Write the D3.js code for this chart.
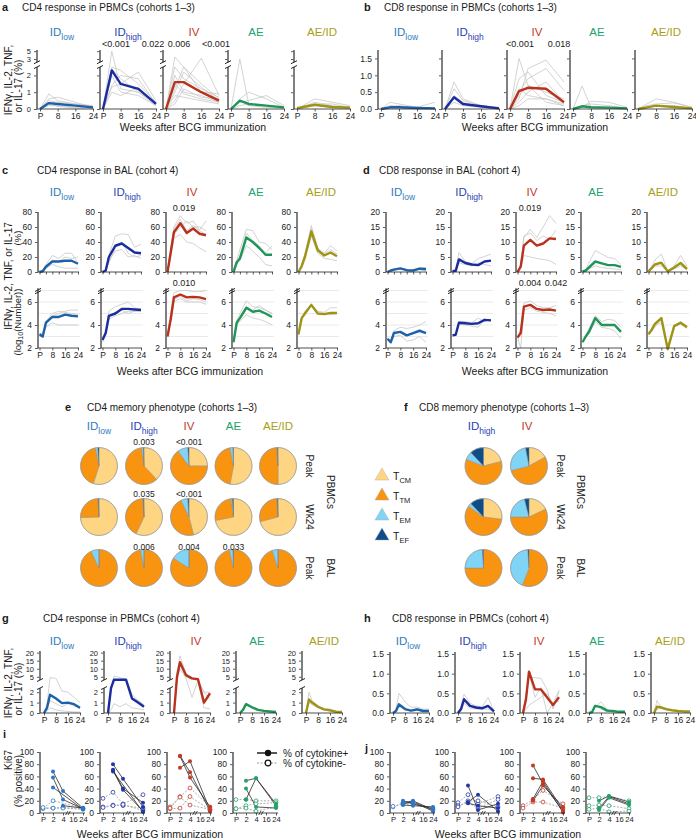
<!DOCTYPE html>
<html>
<head>
<meta charset="utf-8">
<script src="https://cdn.jsdelivr.net/npm/d3@7"></script>
<style>
  body { margin: 0; background: #fff; }
</style>
</head>
<body>
<script>
// ---- groups ----
const groupNames = ["ID", "ID", "IV", "AE", "AE/ID"];
const groupSubs = ["low", "high", "", "", ""];
const groupText = ["#2f7cc0", "#2b3fb3", "#c2392a", "#22a36b", "#a99e1a"];
const groupLine = ["#1d61a8", "#1b2d9e", "#b9321c", "#1f9658", "#9e9515"];

const weeksPbmc = [0, 4, 8, 16, 24];
const weeksFine = [0, 2, 4, 8, 12, 16, 20, 24];

// ---- a: CD4 PBMC cohorts 1-3 (%) ----
const aMean = [
  [0, 0.35, 0.3, 0.2, 0.1],
  [0, 2.3, 1.5, 1.2, 0.3],
  [0, 1.6, 1.6, 1.0, 0.5],
  [0, 0.5, 0.3, 0.2, 0.1],
  [0.05, 0.15, 0.25, 0.12, 0.08]
];
const aAnimals = [
  [[0,0.9,0.5,0.3,0.15],[0,0.6,0.7,0.4,0.1],[0,0.4,0.3,0.2,0.05],[0,0.2,0.2,0.1,0.1],[0,0.5,0.4,0.3,0.2],[0,0.3,0.15,0.05,0.05]],
  [[0,5,1.2,1.0,0.2],[0,2.5,2.3,1.5,0.4],[0,1.4,2.0,1.8,0.3],[0,1.3,1.5,2.2,0.5],[0,2.0,1.0,0.8,0.2],[0,1.0,0.8,1.3,0.3],[0,2.4,1.8,1.0,0.3]],
  [[0,3.5,2.5,1.5,0.6],[0,1.2,2.5,1.0,0.9],[0,0.5,1.5,3.2,0.8],[0,2.0,1.0,0.8,0.4],[0,1.0,2.2,1.3,0.5],[0,0.8,0.7,0.5,0.3],[0,2.5,1.8,1.2,0.7],[0,1.5,0.9,0.6,0.4],[0,0.3,1.2,0.7,0.6]],
  [[0,3.0,0.3,0.2,0.1],[0,0.6,1.0,0.6,0.1],[0,0.4,0.5,0.8,0.2],[0,0.2,0.3,0.2,0.1],[0,0.5,0.2,0.1,0.05]],
  [[0,0.3,0.6,0.4,0.2],[0,0.2,0.3,0.3,0.1],[0,0.1,0.2,0.1,0.05],[0,0.2,0.4,0.2,0.1]]
];
const aPvals = [null, ["<0.001", "0.022"], ["0.006", "<0.001"], null, null];

// ---- b: CD8 PBMC cohorts 1-3 (%) ----
const bMean = [
  [0, 0.05, 0.05, 0.03, 0.02],
  [0, 0.35, 0.15, 0.08, 0.02],
  [0, 0.53, 0.63, 0.6, 0.2],
  [0, 0.08, 0.05, 0.04, 0.02],
  [0, 0.05, 0.1, 0.06, 0.02]
];
const bAnimals = [
  [[0,0.2,0.15,0.05,0.2],[0,0.1,0.08,0.05,0.03],[0,0.05,0.1,0.02,0.02]],
  [[0,0.8,0.3,0.1,0.05],[0,0.6,0.25,0.1,0.02],[0,0.4,0.2,0.05,0.02],[0,0.2,0.1,0.05,0.01]],
  [[0,1.5,0.7,0.5,0.3],[0,0.3,1.2,1.45,0.8],[0,0.9,1.1,0.4,0.2],[0,0.5,0.9,1.2,0.55],[0,0.2,0.5,0.8,0.2],[0,0.6,0.4,0.3,0.1],[0,0.4,0.7,0.2,0.1],[0,0.1,0.3,0.3,0.15]],
  [[0,0.68,0.05,0.05,0.02],[0,0.05,0.23,0.2,0.05],[0,0.1,0.15,0.1,0.03]],
  [[0,0.15,0.3,0.2,0.05],[0,0.1,0.15,0.18,0.05],[0,0.05,0.08,0.1,0.02]]
];
const bPvals = [null, null, ["<0.001", "0.018"], null, null];

// ---- c: CD4 BAL cohort 4 ----
const cPctMean = [
  [0,1,7,14,14,15,15,11],
  [0,2,20,35,38,32,26,25],
  [0,26,53,65,52,58,51,49],
  [0,13,18,46,40,32,23,23],
  [0,8,20,54,29,22,26,21]
];
const cPctAnimals = [
  [[0,2,10,22,18,25,25,12],[0,1,5,10,7,5,5,5],[0,0,8,16,14,20,18,20]],
  [[0,2,22,48,51,50,33,37],[0,1,15,28,30,20,22,18],[0,3,12,32,40,25,20,22]],
  [[0,30,60,75,65,68,56,68],[0,25,50,60,68,60,60,55],[0,20,45,50,40,38,32,27],[0,28,58,70,55,62,55,50]],
  [[0,15,30,57,55,40,38,30],[0,10,15,35,28,20,10,8],[0,12,22,52,42,35,25,35]],
  [[0,10,25,62,32,25,35,28],[0,5,18,48,25,18,17,15],[0,7,22,58,30,24,30,24]]
];
const cLogMean = [
  [3.2,3.0,4.2,4.7,4.7,4.9,4.8,4.75],
  [2.7,3.3,4.8,5.0,5.4,5.4,5.35,5.3],
  [3.0,4.5,6.4,6.65,6.4,6.45,6.4,6.25],
  [2.5,4.2,4.6,5.5,5.15,5.25,5.0,4.7],
  [3.2,4.6,5.0,5.75,5.0,4.95,5.05,5.05]
];
const cLogAnimals = [
  [[3.2,3.1,4.0,4.8,5.0,5.2,5.3,5.3],[3.0,3.0,3.8,4.2,4.0,4.0,4.0,4.0],[3.3,3.2,4.3,5.0,5.2,5.1,5.0,4.9]],
  [[2.5,3.5,5.2,5.6,5.8,6.0,5.5,5.4],[2.8,3.2,4.5,4.8,5.0,5.2,5.2,5.3],[2.9,3.4,4.7,5.1,5.3,5.0,5.2,5.2]],
  [[3.0,5.0,6.8,7.0,7.0,6.9,6.9,7.0],[3.0,4.4,6.2,6.5,6.1,6.3,6.2,6.0],[3.0,4.3,6.0,6.3,6.0,6.0,6.0,5.8]],
  [[2.5,4.4,5.0,6.1,5.6,5.5,5.3,5.0],[2.6,4.0,4.3,4.9,4.6,4.5,4.3,4.0],[2.5,4.3,4.7,5.6,5.3,5.7,5.3,5.0]],
  [[3.1,4.5,5.2,5.8,5.2,5.1,5.5,5.5],[3.2,4.7,4.9,5.7,5.0,4.9,4.9,5.0]]
];
const cPctPvals = [null, null, ["0.019"], null, null];
const cLogPvals = [null, null, ["0.010"], null, null];
const cLogXLabels = [["P","8","16","24"],["P","8","16","24"],["P","8","16","24"],["P","8","16","24"],["0","8","16","24"]];

// ---- d: CD8 BAL cohort 4 ----
const dPctMean = [
  [0,0.5,0.8,1.2,0.6,0.5,1.1,0.9],
  [0.3,0.4,4.2,3.0,2.5,2.3,3.5,3.8],
  [0,1.8,8.8,10.7,8.8,9.5,11.2,11.0],
  [0.2,0.5,1.5,3.5,2.9,2.3,2.3,1.7],
  [0.2,1.3,2.5,3.1,0.2,1.5,3.0,1.0]
];
const dPctAnimals = [
  [[0,0.3,0.6,1.0,0.5,0.4,1.5,1.5],[0,0.6,1.0,1.3,0.7,0.6,0.8,0.7]],
  [[0.2,0.5,6.5,3.5,2.8,4.5,5.2,6.0],[0.3,0.3,3.0,2.5,2.0,3.0,2.5,2.0]],
  [[0,2,11.5,14.2,11.5,15,18.8,16.2],[0,2.5,12,13,10.5,12,11,14],[0,1.5,5.5,5,4.5,4.2,3.8,2.5]],
  [[0.2,0.7,3,7.2,6,4.8,4.5,2.5],[0.1,0.3,1,2,1.5,1.2,1.0,0.8]],
  [[0.2,2,4,6,0.3,2,5.5,2],[0.2,1,2,2,0.2,1,2,0.8]]
];
const dLogMean = [
  [2.8,2.5,3.3,3.4,3.1,3.3,3.5,3.3],
  [3.1,3.15,4.2,4.15,4.1,4.15,4.45,4.4],
  [2.9,3.3,5.6,5.75,5.4,5.3,5.35,5.25],
  [2.5,3.0,3.4,4.6,4.0,4.0,4.0,3.4],
  [3.2,3.6,4.1,4.6,1.9,3.9,4.2,3.8]
];
const dLogAnimals = [
  [[2.8,2.6,3.5,3.8,3.7,3.8,4.0,4.3],[2.9,2.5,3.0,3.1,2.6,2.7,3.0,2.5]],
  [[3.0,3.2,4.3,4.3,4.2,4.6,4.3,4.5],[3.2,3.1,4.1,4.0,3.9,3.8,4.5,4.4]],
  [[2.9,3.6,5.9,6.1,5.7,5.5,5.5,5.7],[2.9,2.0,5.3,5.5,5.2,5.1,5.0,4.8]],
  [[2.6,3.1,3.7,4.8,4.3,4.5,4.4,3.8],[2.5,2.9,3.2,4.3,3.8,3.7,3.5,2.8]],
  [[3.1,3.5,3.8,4.5,2.0,4.0,4.3,3.9],[3.3,3.4,4.0,4.2,2.0,3.8,4.1,3.7]]
];
const dPctPvals = [null, null, ["0.019"], null, null];
const dLogPvals = [null, null, ["0.004", "0.042"], null, null];
const dLogXLabels = [["P","8","16","24"],["P","8","16","24"],["P","8","16","24"],["P","8","16","24"],["P","8","16","24"]];

// ---- e / f: memory phenotype pies (% TCM, TTM, TEM, TEF) ----
const subsetNames = ["CM", "TM", "EM", "EF"];
const subsetColors = ["#fed583", "#f8940f", "#80d4f6", "#0e4d87"];
const ePeak = [[55,42,2,1],[38,60,1.5,0.5],[25,65,9,1],[53,44,2.5,0.5],[50,49,0.5,0.5]];
const eWk24 = [[74.5,24.5,0.5,0.5],[57,42,0.5,0.5],[46,47,6,1],[72,26,1,1],[71,28,0.5,0.5]];
const eBal = [[0,93,7,0],[0,97,3,0],[0,84,16,0],[0,96.5,3,0.5],[0,95,5,0]];
const ePvals = [["","0.003","<0.001","",""],["","0.035","<0.001","",""],["","0.006","0.004","0.033",""]];
const fGroups = [1, 2];
const fPeak = [[21,60,7,12],[17,54,26,3]];
const fWk24 = [[27,58,3,12],[18,57,21,4]];
const fBal = [[0,75,24,1],[0,56,43,1]];
const rowLabels = ["Peak", "Wk24", "Peak"];

// ---- g: CD4 PBMC cohort 4 (%) ----
const gMean = [
  [0,0.5,1.75,1.4,0.95,1.0,0.85,0.5],
  [0,2.4,3.2,3.2,3.2,1.4,1.0,0.6],
  [0,5,14,6,4,3.5,1.0,1.9],
  [0,0.3,0.85,0.55,0.3,0.2,0.15,0.1],
  [0,1.3,1.0,0.6,0.35,0.25,0.12,0.1]
];
const gAnimals = [
  [[0,0.8,4.5,4,2.1,2.0,1.5,1.0],[0,0.3,1.2,0.9,0.6,0.9,0.7,0.4],[0,0.2,0.5,0.3,0.2,0.15,0.1,0.1]],
  [[0,2.0,5.5,4.5,3.5,1.5,1.2,0.7],[0,0.3,0.9,0.6,0.9,0.5,0.4,0.3],[0,2.4,3.0,3.0,3.2,1.8,1.2,0.8]],
  [[0,8,18,7,4,3,0.5,0.4],[0,4,12,5,3.5,3.0,2.0,1.3],[0,3,10,4,1.5,3,2,2]],
  [[0,0.35,0.9,0.6,0.35,0.2,0.15,0.1],[0,0.25,0.8,0.5,0.3,0.2,0.1,0.1]],
  [[0,2.0,1.2,0.7,0.4,0.4,0.15,0.1],[0,1.0,0.8,0.5,0.3,0.2,0.1,0.1]]
];

// ---- h: CD8 PBMC cohort 4 (%) ----
const hMean = [
  [0,0.05,0.22,0.1,0.06,0.09,0.05,0.05],
  [0,0.1,0.35,0.18,0.14,0.12,0.18,0.04],
  [0,0.35,1.05,0.6,0.6,0.4,0.2,0.4],
  [0,0.02,0.18,0.15,0.06,0.05,0.03,0.03],
  [0,0.16,0.15,0.1,0.07,0.05,0.04,0.04]
];
const hAnimals = [
  [[0,0.1,0.5,0.28,0.15,0.15,0.1,0.1],[0,0.05,0.15,0.1,0.05,0.12,0.08,0.05]],
  [[0,0.15,0.48,0.25,0.18,0.15,0.4,0.05],[0,0.05,0.25,0.12,0.1,0.1,0.1,0.03]],
  [[0,0.1,0.2,0.3,0.4,0.5,0.25,0.58],[0,0.5,0.9,0.9,0.88,0.6,0.1,0.55],[0,0.4,1.0,0.4,0.65,0.0,0.25,0.3]],
  [[0,0.05,0.15,0.28,0.1,0.05,0.03,0.02],[0,0.02,0.2,0.1,0.05,0.05,0.03,0.03]],
  [[0,0.32,0.18,0.12,0.07,0.05,0.04,0.04],[0,0.1,0.12,0.08,0.06,0.05,0.04,0.04]]
];

// ---- i / j: Ki67 (% positive) at P, wk2, wk4, wk24 ----
const kiKeys = ["P", "2", "4", "24"];
const kiTicks = ["P", "2", "4", "16", "24"];
const kiColors = ["#2f77c4", "#2437a8", "#c23a24", "#21a36a"];
const iPos = [
  [[null,68,36,8],[null,58,22,7],[null,42,null,6],[null,null,12,8]],
  [[null,80,56,10],[null,71,40,17],[null,70,38,3],[null,68,null,2]],
  [[null,94,67,3],[null,74,85,5],[null,93,58,10]],
  [[null,53,57,15],[null,40,10,8],[null,22,57,12]]
];
const iNeg = [
  [[8,20,null,8],[7,8,9,7],[9,8,8,6]],
  [[24,34,15,30],[10,13,12,8],[9,12,14,4]],
  [[10,27,41,10],[7,8,27,5],[8,26,13,6]],
  [[22,22,20,20],[7,12,15,17],[7,8,3,10]]
];
const jPos = [
  [[null,17,20,5],[null,15,18,3],[null,20,15,7],[null,13,12,10]],
  [[null,45,5,15],[null,18,30,3],[null,16,12,8]],
  [[null,78,48,3],[null,57,55,5],[null,23,52,1],[null,20,45,10]],
  [[null,20,28,18],[null,8,27,15],[null,5,25,13]]
];
const jNeg = [
  [[10,17,18,8],[11,14,15,5]],
  [[17,30,15,27],[12,17,8,22],[10,20,20,10]],
  [[12,22,37,15],[8,18,18,8]],
  [[25,25,27,20],[12,13,12,7],[6,8,2,3]]
];

// ================= drawing =================
const FONT = '"Liberation Sans", Arial, Helvetica, sans-serif';
const svg = d3.select("body").append("svg")
  .attr("width", 696).attr("height", 840)
  .attr("font-family", FONT);
svg.append("rect").attr("width", 696).attr("height", 840).attr("fill", "#fff");

function label(x, y, s, size, o = {}) {
  const t = svg.append("text").attr("x", x).attr("y", y)
    .attr("font-size", size).attr("fill", o.fill || "#1a1a1a")
    .attr("text-anchor", o.anchor || "start")
    .attr("font-weight", o.bold ? "bold" : null)
    .text(s);
  if (o.rotate) t.attr("transform", `rotate(${o.rotate},${x},${y})`);
  return t;
}

function groupTitle(x, y, i) {
  const t = label(x, y, groupNames[i], 11.5, {anchor: "middle", fill: groupText[i]});
  if (groupSubs[i]) t.append("tspan").attr("dy", 3.5).attr("font-size", 8.5).text(groupSubs[i]);
}

function styleAxis(a, fs) {
  a.attr("font-family", FONT);
  a.selectAll("line").attr("stroke", "#333").attr("stroke-width", 0.8);
  a.selectAll("text").attr("font-size", fs || 8.5).attr("fill", "#222");
}

// one small-multiple line panel
function linePanel(o) {
  const g = svg.append("g");
  const x = d3.scaleLinear().domain([0, 24]).range([o.x0 + o.dx, o.x0 + o.dx + o.w]);
  const y = o.y;
  if (o.grid) {
    g.selectAll(null).data(o.grid).join("line")
      .attr("x1", o.x0).attr("x2", o.x0 + o.dx + o.w + 2)
      .attr("y1", d => y(d)).attr("y2", d => y(d))
      .attr("stroke", "#e4e4e4").attr("stroke-width", 0.8);
  }
  const line = d3.line().x((d, i) => x(o.weeks[i])).y(d => y(d));
  g.selectAll(null).data(o.animals).join("path")
    .attr("d", line).attr("fill", "none")
    .attr("stroke", "#c4c4c4").attr("stroke-width", 0.75);
  g.append("path").datum(o.mean).attr("d", line).attr("fill", "none")
    .attr("stroke", o.color).attr("stroke-width", 2.4)
    .attr("stroke-linejoin", "round");

  const ya = g.append("g").attr("transform", `translate(${o.x0},0)`)
    .call(d3.axisLeft(y).tickValues(o.yTicks).tickSize(3)
      .tickFormat(o.yLabels ? (o.yFmt || d3.format("d")) : ""));
  ya.select(".domain").remove();
  styleAxis(ya, o.yFont);
  o.segments.forEach(s => {
    g.append("line").attr("x1", o.x0).attr("x2", o.x0)
      .attr("y1", y(s[0])).attr("y2", y(s[1]))
      .attr("stroke", "#6a6a6a").attr("stroke-width", 1.7);
  });
  (o.breaks || []).forEach(b => {
    g.append("path").attr("d", `M${o.x0 - 3},${y(b) + 1.5}L${o.x0 + 3},${y(b) - 1.5}`)
      .attr("stroke", "#222").attr("stroke-width", 1);
  });

  const yb = y(o.yBase);
  const xa = g.append("g").attr("transform", `translate(0,${yb})`)
    .call(d3.axisBottom(x).tickValues(o.xTicks).tickSize(2.5).tickSizeOuter(0)
      .tickFormat((d, i) => o.xLabels ? o.xLabels[i] : ""));
  xa.select(".domain").remove();
  styleAxis(xa);
  xa.selectAll("text").attr("y", 3.5);
  g.append("line").attr("x1", o.x0).attr("x2", o.x0 + o.dx + o.w + 1)
    .attr("y1", yb).attr("y2", yb).attr("stroke", "#222").attr("stroke-width", 0.8);

  if (o.pvals) {
    o.pvals.forEach((p, k) => {
      label(o.x0 + o.pvalX[k], o.pvalY, p, 9, {anchor: "middle"});
    });
  }
}

// ---------- panel a ----------
label(2, 11, "a", 11, {bold: true});
label(22, 11, "CD4 response in PBMCs (cohorts 1–3)", 10);
const yA = d3.scaleLinear().domain([0, 2.5, 3, 5.3]).range([109, 67, 59, 50]);
const axesA = [37, 100, 163, 228, 294];
const titleA = [62, 128, 194, 256, 322];
axesA.forEach((x0, i) => {
  groupTitle(titleA[i], 36, i);
  linePanel({
    x0, dx: 3, w: 53, y: yA, weeks: weeksPbmc, animals: aAnimals[i], mean: aMean[i],
    color: groupLine[i], yTicks: [0, 1, 2, 3, 5], yLabels: i === 0, yFont: 7.5,
    segments: [[0, 2.5], [2.8, 5.3]], breaks: [2.5, 2.8], yBase: 0,
    xTicks: [0, 8, 16, 24], xLabels: ["P", "8", "16", "24"],
    pvals: aPvals[i], pvalX: [16, 53], pvalY: 47
  });
});
label(12, 80, "IFNγ, IL-2, TNF,", 10, {anchor: "middle", rotate: -90});
label(21.5, 86, "or IL-17 (%)", 10, {anchor: "middle", rotate: -90});
label(193, 131, "Weeks after BCG immunization", 10.5, {anchor: "middle"});

// ---------- panel b ----------
label(364, 11, "b", 11, {bold: true});
label(384, 11, "CD8 response in PBMCs (cohorts 1–3)", 10);
const yB = d3.scaleLinear().domain([0, 1.75]).range([109, 50]);
const axesB = [378, 442, 507, 570, 635];
const titleB = [406, 470, 537, 597, 666];
axesB.forEach((x0, i) => {
  groupTitle(titleB[i], 36, i);
  linePanel({
    x0, dx: 3, w: 54, y: yB, weeks: weeksPbmc, animals: bAnimals[i], mean: bMean[i],
    color: groupLine[i], yTicks: [0, 0.5, 1, 1.5], yLabels: i === 0, yFmt: d3.format(".1f"),
    segments: [[0, 1.75]], yBase: 0,
    xTicks: [0, 8, 16, 24], xLabels: ["P", "8", "16", "24"],
    pvals: bPvals[i], pvalX: [13, 52], pvalY: 47
  });
});
label(535, 131, "Weeks after BCG immunization", 10.5, {anchor: "middle"});

// ---------- panels c / d ----------
const yPctC = d3.scaleLinear().domain([0, 80]).range([272, 212]);
const yPctD = d3.scaleLinear().domain([0, 20]).range([272, 212]);
const yLog = d3.scaleLinear().domain([2, 7.2]).range([348, 288.2]);
function balPanels(axes, titles, yPct, pctTicks, pctMean, pctAnimals, logMean, logAnimals, pctP, logP, pX, logX, xLabelSets) {
  axes.forEach((x0, i) => {
    groupTitle(titles[i], 196, i);
    linePanel({
      x0, dx: 1.5, w: 38.5, y: yPct, weeks: weeksFine, animals: pctAnimals[i], mean: pctMean[i],
      color: groupLine[i], yTicks: pctTicks, yLabels: true,
      segments: [[0, pctTicks[pctTicks.length - 1]]], yBase: 0,
      xTicks: [0, 4, 8, 12, 16, 20, 24], xLabels: null,
      pvals: pctP[i], pvalX: pX, pvalY: 211
    });
    linePanel({
      x0, dx: 1.5, w: 38.5, y: yLog, weeks: weeksFine, animals: logAnimals[i], mean: logMean[i],
      color: groupLine[i], yTicks: [2, 4, 6], yLabels: true, grid: [3, 4, 5, 6, 7],
      segments: [[2, 7.2]], breaks: [6.85, 7.05], yBase: 2,
      xTicks: [0, 8, 16, 24], xLabels: xLabelSets[i],
      pvals: logP[i], pvalX: logX, pvalY: 286
    });
  });
}
label(2, 174, "c", 11, {bold: true});
label(37, 174, "CD4 response in BAL (cohort 4)", 10);
balPanels([38, 101, 166, 232, 297], [62, 127, 192, 256, 321], yPctC, [0, 20, 40, 60, 80],
  cPctMean, cPctAnimals, cLogMean, cLogAnimals, cPctPvals, cLogPvals, [18], [18], cLogXLabels);
label(12, 276, "IFNγ, IL-2, TNF, or IL-17", 10, {anchor: "middle", rotate: -90});
label(20.5, 238, "(%)", 9.5, {anchor: "middle", rotate: -90});
const logLab = label(20.5, 322, "(log", 9.5, {anchor: "middle", rotate: -90});
logLab.append("tspan").attr("dy", 2.5).attr("font-size", 7).text("10");
logLab.append("tspan").attr("dy", -2.5).text("(Number))");
label(190, 375, "Weeks after BCG immunization", 10.5, {anchor: "middle"});

label(363, 174, "d", 11, {bold: true});
label(379, 174, "CD8 response in BAL (cohort 4)", 10);
balPanels([386, 451, 516, 581, 647], [403, 469, 532, 596, 663], yPctD, [0, 5, 10, 15, 20],
  dPctMean, dPctAnimals, dLogMean, dLogAnimals, dPctPvals, dLogPvals, [14], [14, 40], dLogXLabels);
label(535, 375, "Weeks after BCG immunization", 10.5, {anchor: "middle"});

// ---------- panels e / f : pies ----------
const pie = d3.pie().sort(null).value(d => d);
const arc = d3.arc().innerRadius(0).outerRadius(18.5);
const pieRowsY = [466, 517, 568];
const pvalRowsY = [445, 497, 550];
function drawPie(cx, cy, vals) {
  const g = svg.append("g").attr("transform", `translate(${cx},${cy})`);
  g.selectAll("path").data(pie(vals)).join("path")
    .attr("d", arc)
    .attr("fill", (d, i) => subsetColors[i])
    .attr("stroke", "#8a8a8a").attr("stroke-width", 0.4);
  g.append("circle").attr("r", 18.5).attr("fill", "none")
    .attr("stroke", "#9a9a9a").attr("stroke-width", 0.6);
}

label(65, 411, "e", 11, {bold: true});
label(87, 411, "CD4 memory phenotype (cohorts 1–3)", 10);
const ePieX = [99, 144, 189, 233.5, 278];
[ePeak, eWk24, eBal].forEach((rows, r) => {
  rows.forEach((vals, i) => {
    drawPie(ePieX[i], pieRowsY[r], vals);
    if (ePvals[r][i]) label(ePieX[i], pvalRowsY[r], ePvals[r][i], 8.5, {anchor: "middle"});
  });
  label(306, pieRowsY[r], rowLabels[r], 10, {anchor: "middle", rotate: 90});
});
ePieX.forEach((x, i) => groupTitle(x, 430, i));
label(327, 492, "PBMCs", 10, {anchor: "middle", rotate: 90});
label(327, 568, "BAL", 10, {anchor: "middle", rotate: 90});

label(404, 411, "f", 11, {bold: true});
label(419, 411, "CD8 memory phenotype (cohorts 1–3)", 10);
const fPieX = [483.5, 529];
[fPeak, fWk24, fBal].forEach((rows, r) => {
  rows.forEach((vals, i) => drawPie(fPieX[i], pieRowsY[r], vals));
  label(557, pieRowsY[r], rowLabels[r], 10, {anchor: "middle", rotate: 90});
});
fGroups.forEach((gi, k) => groupTitle(fPieX[k] - 2, 430, gi));
label(577, 492, "PBMCs", 10, {anchor: "middle", rotate: 90});
label(577, 568, "BAL", 10, {anchor: "middle", rotate: 90});

// legend for memory subsets
const tri = d3.symbol().type(d3.symbolTriangle).size(85);
subsetNames.forEach((s, k) => {
  const ly = 476 + k * 20;
  svg.append("path").attr("d", tri).attr("transform", `translate(382,${ly})`)
    .attr("fill", subsetColors[k]).attr("stroke", "#aaa").attr("stroke-width", 0.4);
  const t = label(393, ly + 4, "T", 10.5);
  t.append("tspan").attr("dy", 3).attr("font-size", 7.5).text(s);
});

// ---------- panel g ----------
label(2, 622, "g", 11, {bold: true});
label(43, 622, "CD4 response in PBMCs (cohort 4)", 10);
const yG = d3.scaleLinear().domain([0, 2.5, 3, 21]).range([713, 687, 680, 651]);
const axesG = [40, 104, 170, 236, 302];
const titleG = [62, 128, 196, 257, 324];
axesG.forEach((x0, i) => {
  groupTitle(titleG[i], 645, i);
  linePanel({
    x0, dx: 4, w: 36, y: yG, weeks: weeksFine, animals: gAnimals[i], mean: gMean[i],
    color: groupLine[i], yTicks: [0, 1, 2, 5, 10, 15, 20], yLabels: true, yFont: 7.5,
    segments: [[0, 2.4], [3, 21]], breaks: [2.4, 3], yBase: 0,
    xTicks: [0, 8, 16, 24], xLabels: ["P", "8", "16", "24"]
  });
});
label(12, 683, "IFNγ, IL-2, TNF,", 10, {anchor: "middle", rotate: -90});
label(21.5, 689, "or IL-17 (%)", 10, {anchor: "middle", rotate: -90});

// ---------- panel h ----------
label(364, 622, "h", 11, {bold: true});
label(392, 622, "CD8 response in PBMCs (cohort 4)", 10);
const yH = d3.scaleLinear().domain([0, 1.5]).range([713, 654]);
const axesH = [390, 455, 520, 586, 651];
const titleH = [408, 473, 539, 597, 670];
axesH.forEach((x0, i) => {
  groupTitle(titleH[i], 645, i);
  linePanel({
    x0, dx: 3, w: 36, y: yH, weeks: weeksFine, animals: hAnimals[i], mean: hMean[i],
    color: groupLine[i], yTicks: [0, 0.5, 1, 1.5], yLabels: true, yFmt: d3.format(".1f"),
    segments: [[0, 1.55]], yBase: 0,
    xTicks: [0, 8, 16, 24], xLabels: ["P", "8", "16", "24"]
  });
});

// ---------- panels i / j : Ki67 ----------
const yKi = d3.scaleLinear().domain([0, 100]).range([813, 752]);
function kiPanel(x0, pos, neg, ci) {
  const g = svg.append("g");
  const x = d3.scalePoint().domain(kiTicks).range([x0 + 3, x0 + 43]);
  const pts = s => s.map((v, k) => [kiKeys[k], v]).filter(d => d[1] != null);
  const line = d3.line().x(d => x(d[0])).y(d => yKi(d[1]));
  g.selectAll(null).data(neg).join("path")
    .attr("d", s => line(pts(s))).attr("fill", "none")
    .attr("stroke", "#9a9a9a").attr("stroke-width", 0.8).attr("stroke-dasharray", "2,1.5");
  g.selectAll(null).data(pos).join("path")
    .attr("d", s => line(pts(s))).attr("fill", "none")
    .attr("stroke", "#2a2a2a").attr("stroke-width", 0.8);
  neg.forEach(s => g.selectAll(null).data(pts(s)).join("circle")
    .attr("cx", d => x(d[0])).attr("cy", d => yKi(d[1])).attr("r", 1.9)
    .attr("fill", "#fff").attr("stroke", kiColors[ci]).attr("stroke-width", 0.8));
  pos.forEach(s => g.selectAll(null).data(pts(s)).join("circle")
    .attr("cx", d => x(d[0])).attr("cy", d => yKi(d[1])).attr("r", 2)
    .attr("fill", kiColors[ci]));

  const ya = g.append("g").attr("transform", `translate(${x0},0)`)
    .call(d3.axisLeft(yKi).tickValues([0, 20, 40, 60, 80, 100]).tickSize(3));
  ya.select(".domain").remove();
  styleAxis(ya);
  g.append("line").attr("x1", x0).attr("x2", x0).attr("y1", yKi(0)).attr("y2", yKi(100))
    .attr("stroke", "#6a6a6a").attr("stroke-width", 1.7);
  const xa = g.append("g").attr("transform", `translate(0,${yKi(0)})`)
    .call(d3.axisBottom(x).tickSize(2.5).tickSizeOuter(0));
  xa.select(".domain").remove();
  styleAxis(xa, 7.6);
  xa.selectAll("text").attr("y", 3.5);
  g.append("line").attr("x1", x0).attr("x2", x0 + 45).attr("y1", yKi(0)).attr("y2", yKi(0))
    .attr("stroke", "#222").attr("stroke-width", 0.8);
  const bx = (x("4") + x("16")) / 2;
  [-1.2, 1.2].forEach(o => g.append("line")
    .attr("x1", bx + o - 1.2).attr("x2", bx + o + 1.2)
    .attr("y1", yKi(0) + 2).attr("y2", yKi(0) - 2)
    .attr("stroke", "#222").attr("stroke-width", 0.8));
}
label(3, 738, "i", 11, {bold: true});
[40, 100, 167, 233].forEach((x0, i) => kiPanel(x0, iPos[i], iNeg[i], i));
label(12, 760, "Ki67", 10, {anchor: "middle", rotate: -90});
label(21.5, 781, "(% positive)", 10, {anchor: "middle", rotate: -90});
label(150, 838, "Weeks after BCG immunization", 10.5, {anchor: "middle"});

// legend for i
svg.append("line").attr("x1", 257).attr("x2", 277).attr("y1", 753).attr("y2", 753)
  .attr("stroke", "#111").attr("stroke-width", 1.4);
svg.append("circle").attr("cx", 268).attr("cy", 753).attr("r", 3.2).attr("fill", "#111");
label(283, 756.5, "% of cytokine+", 10);
svg.append("line").attr("x1", 257).attr("x2", 277).attr("y1", 763).attr("y2", 763)
  .attr("stroke", "#999").attr("stroke-width", 1.2).attr("stroke-dasharray", "2,1.5");
svg.append("circle").attr("cx", 268).attr("cy", 763).attr("r", 2.8).attr("fill", "#fff")
  .attr("stroke", "#111").attr("stroke-width", 1.2);
label(283, 767, "% of cytokine-", 10);

label(365, 752, "j", 11, {bold: true});
[390, 455, 520, 586].forEach((x0, i) => kiPanel(x0, jPos[i], jNeg[i], i));
label(508, 838, "Weeks after BCG immunization", 10.5, {anchor: "middle"});
</script>
</body>
</html>
